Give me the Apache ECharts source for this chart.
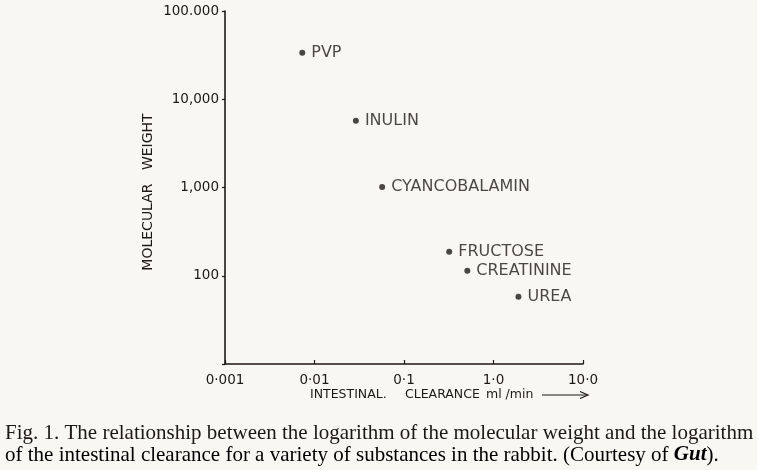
<!DOCTYPE html>
<html><head><meta charset="utf-8">
<script src="https://cdn.jsdelivr.net/npm/echarts@6/dist/echarts.min.js"></script>
<style>html,body{margin:0;padding:0;background:#f9f7f2;}#c{width:757px;height:470px;}</style>
</head><body><div id="c"></div>
<script>
var substances = ['PVP', 'INULIN', 'CYANCOBALAMIN', 'FRUCTOSE', 'CREATININE', 'UREA'];
var clearance = [0.0073, 0.029, 0.057, 0.32, 0.51, 1.9];
var molWeight = [33700, 5700, 1010, 187, 114, 58];
var xTickValues = [0.001, 0.01, 0.1, 1, 10];
var xTickLabels = ['0·001', '0·01', '0·1', '1·0', '10·0'];
var yTickValues = [100, 1000, 10000, 100000];
var yTickLabels = ['100', '1,000', '10,000', '100.000'];

var ink = '#1e1916';
var sans = '"DejaVu Sans", sans-serif';
var serif = '"Liberation Serif", serif';
function lab(vals, labs, v) {
  for (var i = 0; i < vals.length; i++) if (Math.abs(Math.log10(v) - Math.log10(vals[i])) < 1e-6) return labs[i];
  return '';
}
var chart = echarts.init(document.getElementById('c'), null, {renderer: 'canvas'});
chart.setOption({
  backgroundColor: '#f9f7f2',
  animation: false,
  grid: {left: 225, top: 11, width: 358, height: 353},
  xAxis: {
    type: 'log', logBase: 10, min: 0.001, max: 10,
    axisLine: {lineStyle: {color: ink, width: 1.6}},
    axisTick: {inside: true, length: 4, lineStyle: {color: ink, width: 1.2}},
    axisLabel: {color: ink, fontFamily: sans, fontSize: 13.5, margin: 9,
      formatter: function (v) { return lab(xTickValues, xTickLabels, v); }},
    splitLine: {show: false}, minorTick: {show: false}
  },
  yAxis: {
    type: 'log', logBase: 10, min: 10, max: 100000,
    axisLine: {lineStyle: {color: ink, width: 1.6}},
    axisTick: {length: 3, lineStyle: {color: ink, width: 1.2}},
    axisLabel: {color: ink, fontFamily: sans, fontSize: 13.5, margin: 6,
      formatter: function (v) { return lab(yTickValues, yTickLabels, v); }},
    splitLine: {show: false}
  },
  graphic: [
    {type: 'text', x: 148, y: 192, rotation: Math.PI / 2,
      style: {text: 'MOLECULAR   WEIGHT', fill: ink, font: '14px ' + sans, align: 'center', verticalAlign: 'middle'}},
    {type: 'text', x: 310, y: 395,
      style: {text: 'INTESTINAL.', fill: ink, font: '12.5px ' + sans, verticalAlign: 'middle'}},
    {type: 'text', x: 405, y: 395,
      style: {text: 'CLEARANCE', fill: ink, font: '12.5px ' + sans, verticalAlign: 'middle'}},
    {type: 'text', x: 486, y: 395,
      style: {text: 'ml /min', fill: ink, font: '12.5px ' + sans, verticalAlign: 'middle'}},
    {type: 'polyline', shape: {points: [[542, 395], [587, 395]]}, style: {stroke: ink, lineWidth: 1.2}},
    {type: 'polyline', shape: {points: [[580, 391.5], [588, 395], [580, 398.5]]}, style: {stroke: ink, lineWidth: 1.2, fill: null}},
    {type: 'text', x: 5, y: 422.5,
      style: {text: 'Fig. 1. The relationship between the logarithm of the molecular weight and the logarithm', fill: '#1c1816', font: '21px ' + serif}},
    {type: 'text', x: 5, y: 444.5,
      style: {rich: {n: {fontFamily: serif, fontSize: 21, color: '#1c1816'},
                     i: {fontFamily: serif, fontSize: 21, fontStyle: 'italic', fontWeight: 'bold', color: '#1c1816'}},
              text: '{n|of the intestinal clearance for a variety of substances in the rabbit. (Courtesy of }{i|Gut}{n|).}'}}
  ],
  series: [{
    type: 'scatter',
    symbol: 'circle', symbolSize: 6,
    itemStyle: {color: ink},
    data: clearance.map(function (c, i) { return {value: [c, molWeight[i]], name: substances[i]}; }),
    label: {show: true, position: 'right', distance: 6, color: ink, fontFamily: sans, fontSize: 16,
      formatter: function (p) { return p.name; }}
  }]
});
</script></body></html>
